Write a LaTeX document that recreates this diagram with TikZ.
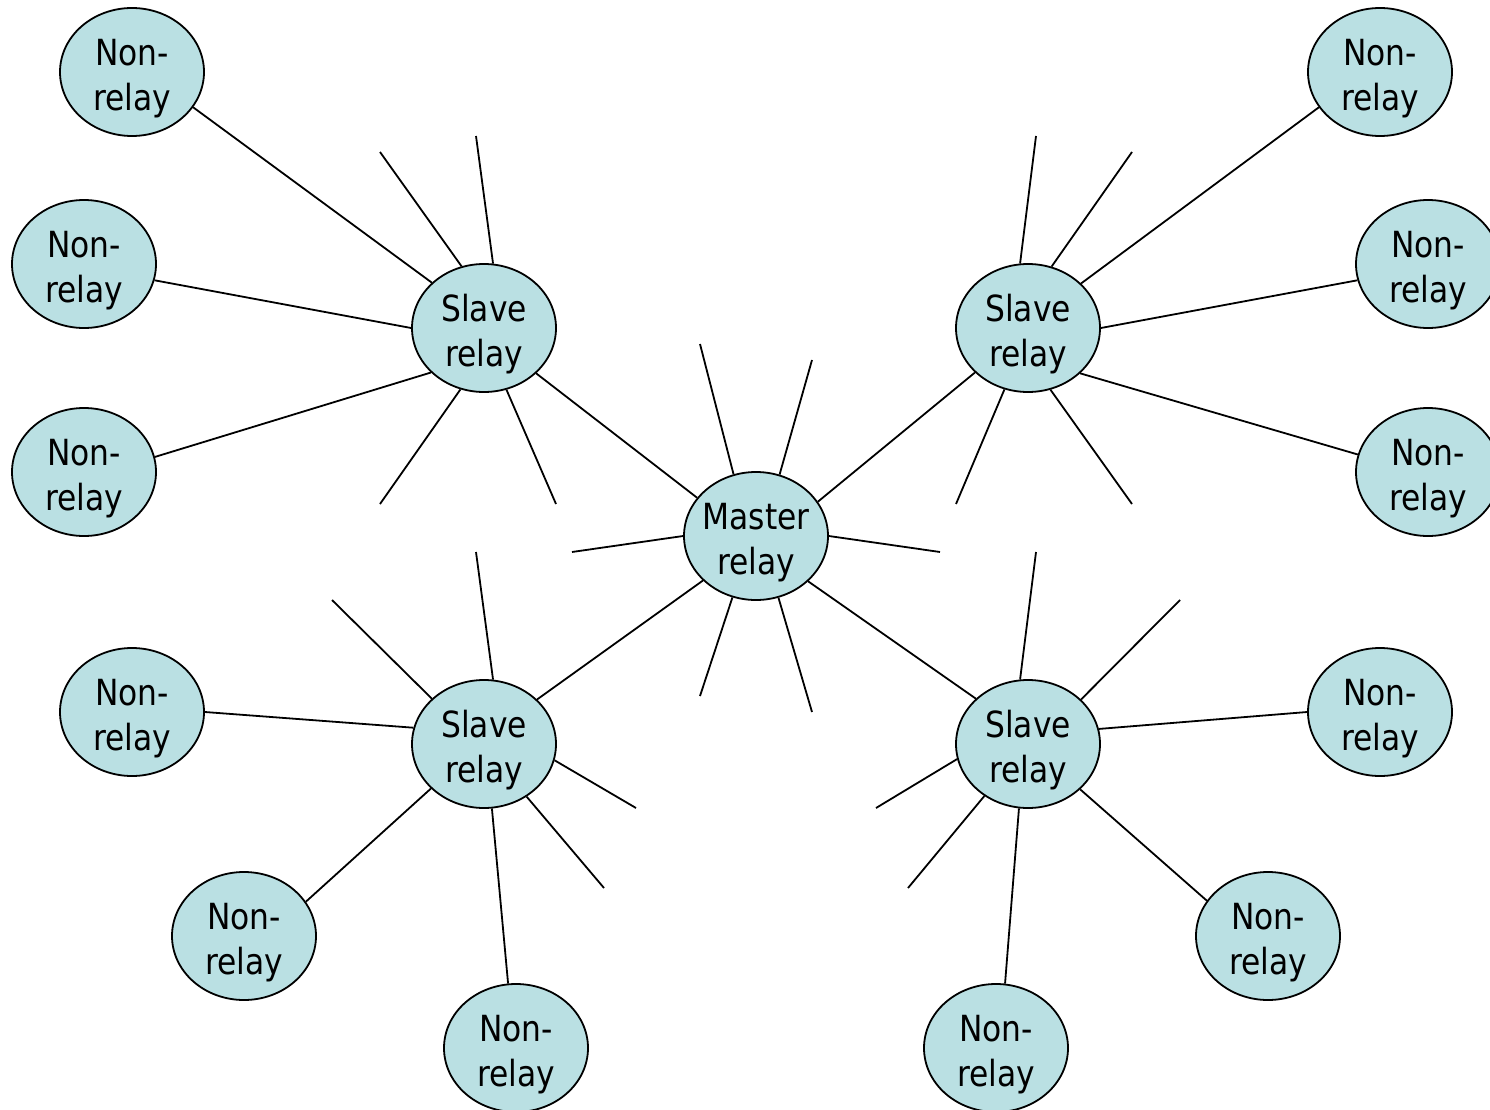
\documentclass[tikz,border=0pt]{standalone}
\usepackage{fontspec}
\setmainfont{DejaVu Sans}[FakeStretch=0.87]
\usetikzlibrary{shapes.geometric}
\definecolor{nodefill}{RGB}{186,224,227}
\newcommand\twolines[2]{\makebox[0pt][c]{\raisebox{-13pt}[0pt][0pt]{\begin{tabular}{@{}c@{}}#1\\#2\end{tabular}}}}
\begin{document}
\begin{tikzpicture}[x=1pt,y=-1pt,
  relay/.style={ellipse,draw=black,line width=1.8pt,fill=nodefill,minimum width=144pt,minimum height=128pt,inner sep=0pt,font=\fontsize{36}{45}\selectfont},
  conn/.style={draw=black,line width=1.8pt}]
\useasboundingbox (0,0) rectangle (1490,1110);
% nodes
\node[relay] (M) at (756,536) {\twolines{Master}{relay}};
\node[relay] (S1) at (484,328) {\twolines{Slave}{relay}};
\node[relay] (S2) at (1028,328) {\twolines{Slave}{relay}};
\node[relay] (S3) at (484,744) {\twolines{Slave}{relay}};
\node[relay] (S4) at (1028,744) {\twolines{Slave}{relay}};
\node[relay] (N1) at (132,72) {\twolines{Non-}{relay}};
\node[relay] (N2) at (84,264) {\twolines{Non-}{relay}};
\node[relay] (N3) at (84,472) {\twolines{Non-}{relay}};
\node[relay] (N4) at (1380,72) {\twolines{Non-}{relay}};
\node[relay] (N5) at (1428,264) {\twolines{Non-}{relay}};
\node[relay] (N6) at (1428,472) {\twolines{Non-}{relay}};
\node[relay] (N7) at (132,712) {\twolines{Non-}{relay}};
\node[relay] (N8) at (244,936) {\twolines{Non-}{relay}};
\node[relay] (N9) at (516,1048) {\twolines{Non-}{relay}};
\node[relay] (N10) at (1380,712) {\twolines{Non-}{relay}};
\node[relay] (N11) at (1268,936) {\twolines{Non-}{relay}};
\node[relay] (N12) at (996,1048) {\twolines{Non-}{relay}};
% free ends
\coordinate (s1a) at (380,152);
\coordinate (s1b) at (476,136);
\coordinate (s1c) at (380,504);
\coordinate (s1d) at (556,504);
\coordinate (s2a) at (1036,136);
\coordinate (s2b) at (1132,152);
\coordinate (s2c) at (956,504);
\coordinate (s2d) at (1132,504);
\coordinate (ma) at (700,344);
\coordinate (mb) at (812,360);
\coordinate (mc) at (572,552);
\coordinate (md) at (940,552);
\coordinate (me) at (700,696);
\coordinate (mf) at (812,712);
\coordinate (s3a) at (332,600);
\coordinate (s3b) at (476,552);
\coordinate (s3c) at (636,808);
\coordinate (s3d) at (604,888);
\coordinate (s4a) at (1036,552);
\coordinate (s4b) at (1180,600);
\coordinate (s4c) at (876,808);
\coordinate (s4d) at (908,888);
% connectors between nodes
\draw[conn] (S1.139.4) -- (N1.330.4);
\draw[conn] (S1.180) -- (N2.347.5);
\draw[conn] (S1.220.6) -- (N3.12.5);
\draw[conn] (S2.40.6) -- (N4.210.5);
\draw[conn] (S2.0) -- (N5.193.2);
\draw[conn] (S2.319.4) -- (N6.166.8);
\draw[conn] (S3.167.5) -- (N7.0);
\draw[conn] (S3.220.6) -- (N8.29.7);
\draw[conn] (S3.277.1) -- (N9.97.1);
\draw[conn] (S4.12.5) -- (N10.180);
\draw[conn] (S4.319.4) -- (N11.150.3);
\draw[conn] (S4.262.9) -- (N12.82.9);
\draw[conn] (M.147.3) -- (S1.319.4);
\draw[conn] (M.29.7) -- (S2.220.6);
\draw[conn] (M.220.6) -- (S3.40.6);
\draw[conn] (M.319.4) -- (S4.139.4);
% stubs
\draw[conn] (S1.110.6) -- (s1a);
\draw[conn] (S1.82.9) -- (s1b);
\draw[conn] (S1.249.4) -- (s1c);
\draw[conn] (S1.290.6) -- (s1d);
\draw[conn] (S2.97.1) -- (s2a);
\draw[conn] (S2.69.4) -- (s2b);
\draw[conn] (S2.249.4) -- (s2c);
\draw[conn] (S2.290.6) -- (s2d);
\draw[conn] (M.110.6) -- (ma);
\draw[conn] (M.69.4) -- (mb);
\draw[conn] (M.180) -- (mc);
\draw[conn] (M.0) -- (md);
\draw[conn] (M.249.4) -- (me);
\draw[conn] (M.290.6) -- (mf);
\draw[conn] (S3.139.4) -- (s3a);
\draw[conn] (S3.82.9) -- (s3b);
\draw[conn] (S3.347.5) -- (s3c);
\draw[conn] (S3.309.8) -- (s3d);
\draw[conn] (S4.97.1) -- (s4a);
\draw[conn] (S4.40.6) -- (s4b);
\draw[conn] (S4.192.5) -- (s4c);
\draw[conn] (S4.230.2) -- (s4d);
\end{tikzpicture}
\end{document}
